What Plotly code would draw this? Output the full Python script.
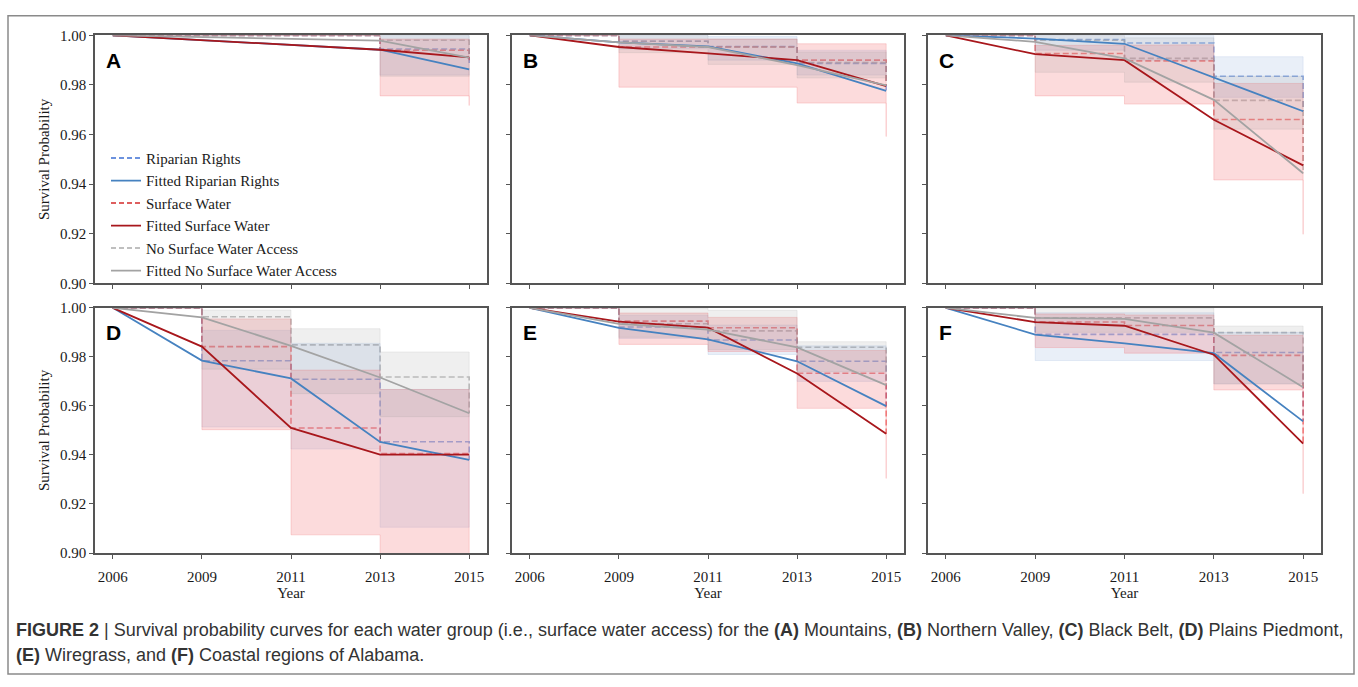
import plotly.graph_objects as go

# ---------------- data ----------------
years = ["2006", "2009", "2011", "2013", "2015"]
panels = ["A", "B", "C", "D", "E", "F"]
yticks = [0.90, 0.92, 0.94, 0.96, 0.98, 1.00]

# Riparian Rights: Kaplan-Meier estimate, CI bounds, fitted curve
rip_km = {"A": [1, 1, 1, 0.9945, 0.988], "B": [1, 0.9976, 0.9955, 0.9887, 0.978],
          "C": [1, 0.9983, 0.9969, 0.9835, 0.9695], "D": [1, 0.9784, 0.9709, 0.9454, 0.938],
          "E": [1, 0.9922, 0.9869, 0.9782, 0.960], "F": [1, 0.9892, 0.9892, 0.9818, 0.954]}
rip_lo = {"A": [1, 1, 1, 0.984, 0.984], "B": [1, 0.9945, 0.990, 0.984, 0.984],
          "C": [1, 0.994, 0.990, 0.975, 0.975], "D": [1, 0.9514, 0.9424, 0.9105, 0.9105],
          "E": [1, 0.9875, 0.981, 0.970, 0.970], "F": [1, 0.9785, 0.9785, 0.969, 0.969]}
rip_hi = {"A": [1, 1, 1, 1.0, 1.0], "B": [1, 1.0, 0.9995, 0.994, 0.994],
          "C": [1, 1.0, 1.0, 0.9914, 0.9914], "D": [1, 0.9908, 0.9855, 0.9667, 0.9667],
          "E": [1, 0.997, 0.993, 0.9845, 0.9845], "F": [1, 0.998, 0.998, 0.990, 0.990]}
rip_fit = {"A": [1, 0.998, 0.9963, 0.9942, 0.9863], "B": [1, 0.9972, 0.9955, 0.9887, 0.9776],
           "C": [1, 0.9987, 0.9966, 0.9831, 0.9694], "D": [1, 0.9785, 0.9712, 0.9453, 0.938],
           "E": [1, 0.9918, 0.9871, 0.9782, 0.9599], "F": [1, 0.9891, 0.9855, 0.9815, 0.9537]}

# Surface Water
sw_km = {"A": [1, 1, 1, 0.994, 0.990], "B": [1, 0.9953, 0.9953, 0.990, 0.980],
         "C": [1, 0.9927, 0.9897, 0.9661, 0.9476], "D": [1, 0.9842, 0.951, 0.9406, 0.9406],
         "E": [1, 0.9946, 0.9919, 0.9733, 0.9486], "F": [1, 0.9942, 0.9928, 0.9806, 0.9446]}
sw_lo = {"A": [1, 1, 1, 0.9756, 0.9717], "B": [1, 0.9791, 0.9791, 0.9727, 0.9592],
         "C": [1, 0.9756, 0.9723, 0.9417, 0.9198], "D": [1, 0.9503, 0.9074, 0.885, 0.885],
         "E": [1, 0.9851, 0.9822, 0.959, 0.9304], "F": [1, 0.9838, 0.9815, 0.9665, 0.9242]}
sw_hi = {"A": [1, 1, 1, 0.9985, 0.9985], "B": [1, 0.9985, 0.9985, 0.9966, 0.9966],
         "C": [1, 0.9959, 0.9962, 0.9806, 0.9806], "D": [1, 0.9955, 0.9746, 0.9667, 0.9667],
         "E": [1, 0.9979, 0.9961, 0.9826, 0.9826], "F": [1, 0.9975, 0.9971, 0.9888, 0.9888]}
sw_fit = {"A": [1, 0.998, 0.9963, 0.9942, 0.9911], "B": [1, 0.9953, 0.9927, 0.990, 0.9795],
          "C": [1, 0.9924, 0.990, 0.966, 0.9476], "D": [1, 0.9842, 0.951, 0.9401, 0.9401],
          "E": [1, 0.9944, 0.9919, 0.9732, 0.9486], "F": [1, 0.9942, 0.9927, 0.9809, 0.9446]}

# No Surface Water Access
ns_km = {"A": [1, 1, 1, 0.998, 0.991], "B": [1, 0.9976, 0.9953, 0.989, 0.980],
         "C": [1, 0.998, 0.9907, 0.9738, 0.9444], "D": [1, 0.9964, 0.9849, 0.9718, 0.957],
         "E": [1, 0.9935, 0.9906, 0.9839, 0.9685], "F": [1, 0.9959, 0.9959, 0.9899, 0.968]}
ns_lo = {"A": [1, 1, 1, 0.9835, 0.9835], "B": [1, 0.993, 0.9883, 0.9828, 0.9828],
         "C": [1, 0.9851, 0.9811, 0.9622, 0.9622], "D": [1, 0.975, 0.965, 0.9556, 0.9556],
         "E": [1, 0.988, 0.983, 0.974, 0.974], "F": [1, 0.990, 0.990, 0.969, 0.969]}
ns_hi = {"A": [1, 1, 1, 1.0, 1.0], "B": [1, 1.0, 0.9985, 0.9933, 0.9933],
         "C": [1, 1.0, 0.999, 0.9835, 0.9835], "D": [1, 0.9991, 0.9915, 0.982, 0.982],
         "E": [1, 1.0, 0.999, 0.9862, 0.9862], "F": [1, 1.0, 1.0, 0.9926, 0.9926]}
ns_fit = {"A": [1, 0.9993, 0.9986, 0.9979, 0.991], "B": [1, 0.9972, 0.9953, 0.988, 0.9798],
          "C": [1, 0.9974, 0.9907, 0.974, 0.9444], "D": [1, 0.9961, 0.9845, 0.9716, 0.957],
          "E": [1, 0.9935, 0.9911, 0.9839, 0.9685], "F": [1, 0.9959, 0.9955, 0.9899, 0.9676]}

caption1 = ("<b>FIGURE 2</b> | Survival probability curves for each water group (i.e., surface water access) "
            "for the <b>(A)</b> Mountains, <b>(B)</b> Northern Valley, <b>(C)</b> Black Belt, "
            "<b>(D)</b> Plains Piedmont,")
caption2 = "<b>(E)</b> Wiregrass, and <b>(F)</b> Coastal regions of Alabama."

# ---------------- styling ----------------
groups = [
    dict(name="Riparian Rights", km=rip_km, lo=rip_lo, hi=rip_hi, fit=rip_fit,
         dash="rgba(70,120,215,0.6)", leg="#3d6fd3", band="rgba(110,150,210,0.15)", fitc="#4682c0"),
    dict(name="Surface Water", km=sw_km, lo=sw_lo, hi=sw_hi, fit=sw_fit,
         dash="rgba(232,45,45,0.6)", leg="#d42a2a", band="rgba(245,110,115,0.25)", fitc="#a8171c"),
    dict(name="No Surface Water Access", km=ns_km, lo=ns_lo, hi=ns_hi, fit=ns_fit,
         dash="rgba(165,165,165,0.7)", leg="#aaaaaa", band="rgba(150,150,150,0.15)", fitc="#a3a3a3"),
]

W, H = 1358, 687
col_px = [(95, 487), (512, 904), (928, 1321)]
row_px = [(28, 282), (307, 558)]
xpos = list(range(len(years)))
serif = "Liberation Serif, Times New Roman, serif"
sans = "Liberation Sans, Arial, sans-serif"
axis_col = "#555555"
txt_col = "#1a1a1a"


def step(xs, ys):
    px, py = [], []
    for i in range(len(xs)):
        px.append(xs[i]); py.append(ys[i])
        if i + 1 < len(xs):
            px.append(xs[i + 1]); py.append(ys[i])
    return px, py


fig = go.Figure()

for k, p in enumerate(panels):
    n = "" if k == 0 else str(k + 1)
    xa, ya = "x" + n, "y" + n
    # Kaplan-Meier step lines (dashed)
    for g in groups:
        fig.add_trace(go.Scatter(x=xpos, y=g["km"][p], mode="lines", xaxis=xa, yaxis=ya,
                                 line=dict(shape="hv", dash="6px,3px", color=g["dash"], width=1.6),
                                 showlegend=False, hoverinfo="skip"))
    # confidence bands
    for g in groups:
        ux, uy = step(xpos, g["hi"][p])
        lx, ly = step(xpos, g["lo"][p])
        fig.add_trace(go.Scatter(x=ux + lx[::-1], y=uy + ly[::-1], mode="lines", fill="toself",
                                 fillcolor=g["band"], line=dict(color=g["band"], width=1),
                                 xaxis=xa, yaxis=ya, showlegend=False, hoverinfo="skip"))
    # fitted curves
    for gi, g in enumerate(groups):
        fig.add_trace(go.Scatter(x=xpos, y=g["fit"][p], mode="lines", xaxis=xa, yaxis=ya,
                                 line=dict(color=g["fitc"], width=1.8),
                                 name="Fitted " + g["name"], showlegend=(k == 0),
                                 legendrank=2 * gi + 2, hoverinfo="skip"))

# legend entries for the dashed estimates
for gi, g in enumerate(groups):
    fig.add_trace(go.Scatter(x=[None], y=[None], mode="lines", name=g["name"],
                             line=dict(color=g["leg"], dash="5px,3px", width=1.6),
                             legendrank=2 * gi + 1, showlegend=True))

layout = dict(
    width=W, height=H, margin=dict(l=0, r=0, t=0, b=0),
    paper_bgcolor="white", plot_bgcolor="white",
    font=dict(family=serif, size=15, color=txt_col),
    showlegend=True,
    legend=dict(x=106 / W, y=1 - 137 / H, xanchor="left", yanchor="top",
                bgcolor="rgba(0,0,0,0)", borderwidth=0, tracegroupgap=0,
                font=dict(family=serif, size=15, color=txt_col), itemwidth=30),
)

annotations = []
for k, p in enumerate(panels):
    r, c = k // 3, k % 3
    n = "" if k == 0 else str(k + 1)
    xaxis = dict(domain=[col_px[c][0] / W, col_px[c][1] / W], range=[-0.2, 4.2],
                 tickmode="array", tickvals=xpos, ticktext=years, showticklabels=(r == 1),
                 ticks="outside", ticklen=4, tickwidth=1, tickcolor=axis_col,
                 showline=True, linecolor=axis_col, linewidth=1.5, mirror=True,
                 showgrid=False, zeroline=False, anchor="y" + n, ticklabelstandoff=5,
                 tickfont=dict(family=serif, size=15, color=txt_col))
    if r == 1:
        xaxis["title"] = dict(text="Year", standoff=4, font=dict(family=serif, size=15, color=txt_col))
    yaxis = dict(domain=[1 - row_px[r][1] / H, 1 - row_px[r][0] / H], range=[0.90, 1.00],
                 tickmode="array", tickvals=yticks, tickformat=".2f", showticklabels=(c == 0),
                 ticks="outside", ticklen=4, tickwidth=1, tickcolor=axis_col,
                 showline=True, linecolor=axis_col, linewidth=1.5, mirror=True,
                 showgrid=False, zeroline=False, anchor="x" + n,
                 tickfont=dict(family=serif, size=15, color=txt_col))
    if c == 0:
        yaxis["title"] = dict(text="Survival Probability", standoff=7,
                              font=dict(family=serif, size=15, color=txt_col))
    layout["xaxis" + n] = xaxis
    layout["yaxis" + n] = yaxis
    annotations.append(dict(text="<b>%s</b>" % p, xref="x%s domain" % n, yref="y%s domain" % n,
                            x=0.024, y=0.955, xanchor="left", yanchor="top", showarrow=False,
                            font=dict(family=sans, size=21, color="#000000")))

annotations.append(dict(text=caption1, xref="paper", yref="paper", x=14 / W, y=1 - 637 / H,
                        xanchor="left", yanchor="middle", showarrow=False, align="left",
                        font=dict(family=sans, size=18, color="#333333")))
annotations.append(dict(text=caption2, xref="paper", yref="paper", x=14 / W, y=1 - 662 / H,
                        xanchor="left", yanchor="middle", showarrow=False, align="left",
                        font=dict(family=sans, size=18, color="#333333")))
layout["annotations"] = annotations
layout["shapes"] = [dict(type="rect", xref="paper", yref="paper",
                         x0=8 / W, x1=1354 / W, y0=1 - 682 / H, y1=1 - 8 / H,
                         line=dict(color="#8a8a8a", width=1.5), fillcolor="rgba(0,0,0,0)", layer="below")]

fig.update_layout(**layout)
fig.write_html("out.html", config={"displayModeBar": False},
               post_script="document.body.style.margin='0';")
